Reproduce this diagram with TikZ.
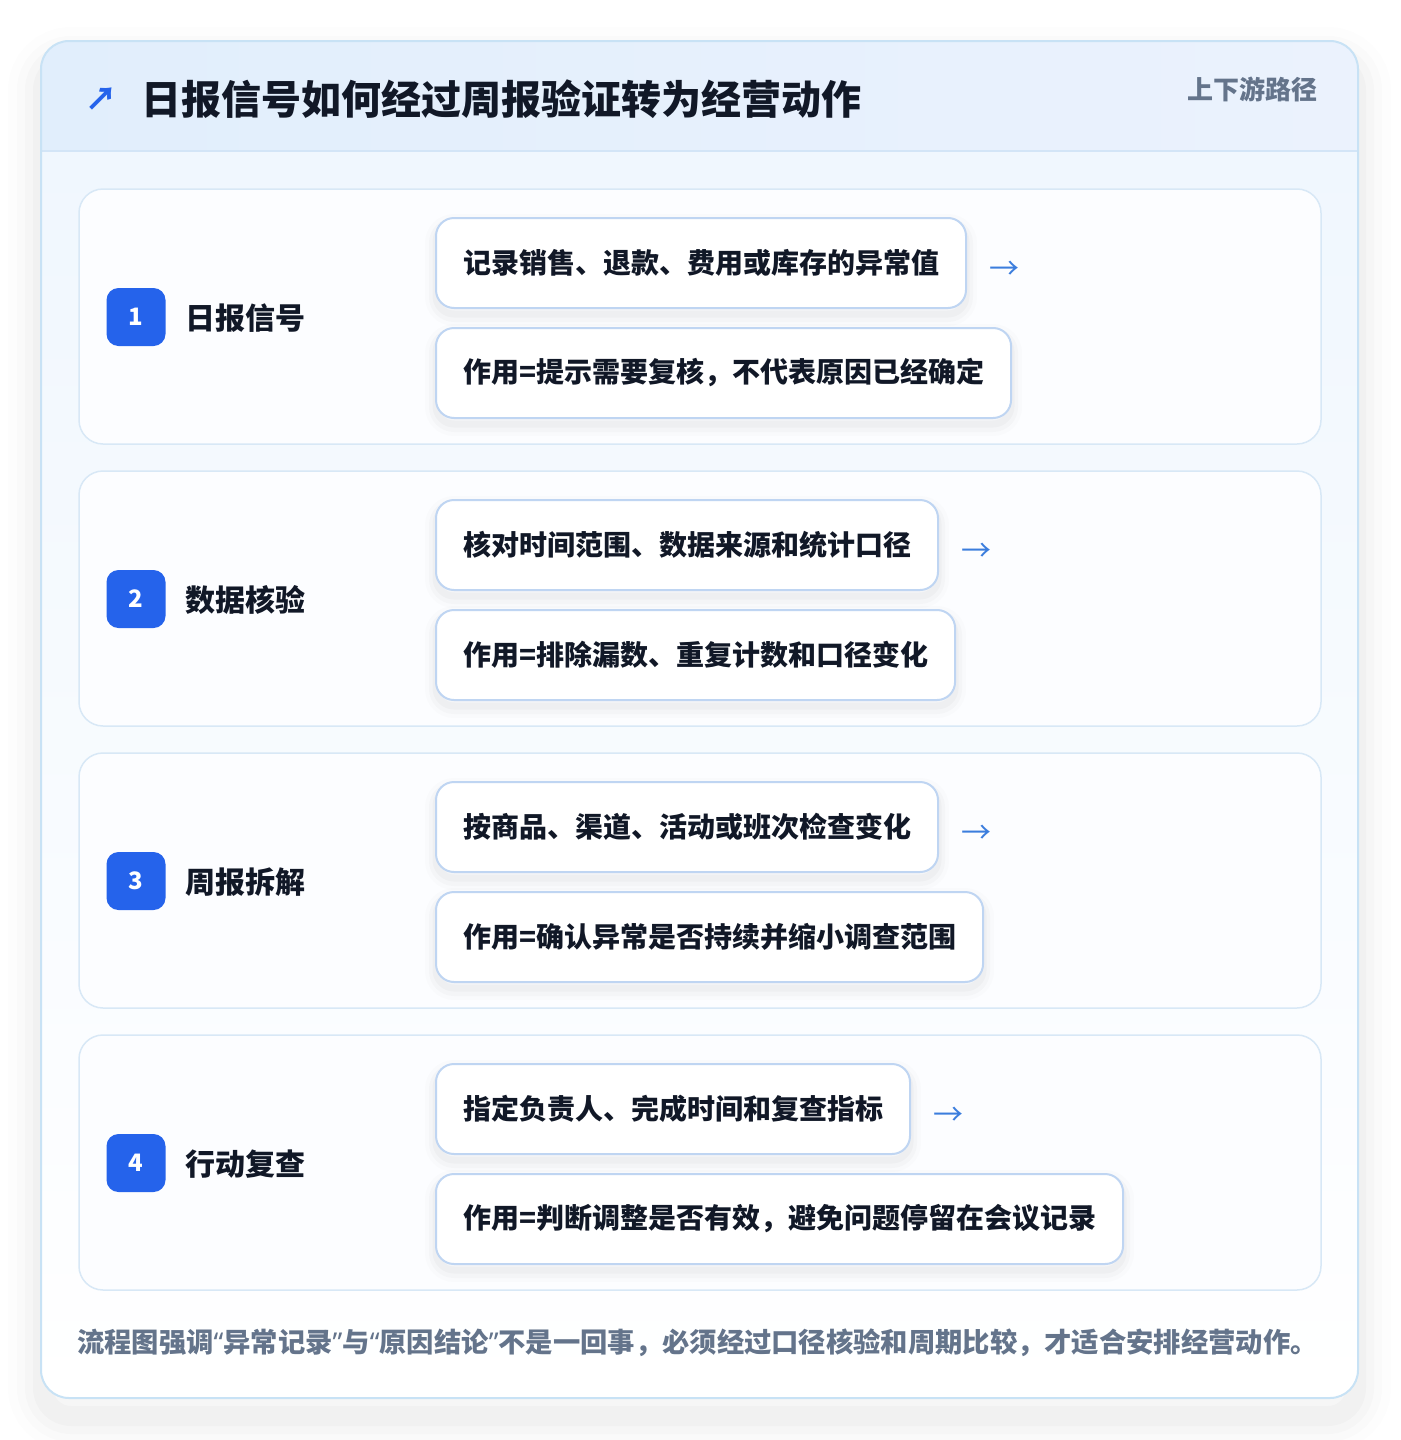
\documentclass[tikz,border=0pt]{standalone}
\usepackage{fontspec}
\setmainfont{Noto Sans CJK SC}
\newfontfamily\latinq{Noto Sans}
\usetikzlibrary{positioning}
\newcommand\fsz[1]{\fontsize{#1}{#1}\selectfont}
\newcommand\qopen{{\latinq “}}
\newcommand\qclose{{\latinq ”}}
\definecolor{ink}{HTML}{111827}
\definecolor{brand}{HTML}{2563EB}
\definecolor{arrowc}{HTML}{3B7DDD}
\definecolor{muted}{HTML}{64748B}
\definecolor{cardline}{HTML}{C8E2F5}
\definecolor{headA}{HTML}{E1EEFC}
\definecolor{headB}{HTML}{EBF2FD}
\definecolor{headline}{HTML}{D3E5F7}
\definecolor{bodyA}{HTML}{F0F7FE}
\definecolor{stepline}{HTML}{D8E8F6}
\definecolor{stepfill}{HTML}{FCFDFF}
\definecolor{boxline}{HTML}{BFD5F2}
\tikzset{
  softshadow/.style={
    preaction={draw=black, draw opacity=0.012, line width=22, transform canvas={yshift=-7pt}},
    preaction={draw=black, draw opacity=0.018, line width=14, transform canvas={yshift=-7pt}},
    preaction={draw=black, draw opacity=0.025, line width=7, transform canvas={yshift=-6pt}}},
  stepcard/.style={draw=stepline, line width=1.5, fill=stepfill, rounded corners=24},
  badge/.style={fill=brand, rounded corners=12, minimum width=59, minimum height=58,
    text=white, font=\fsz{24}\bfseries, inner sep=0},
  steplabel/.style={anchor=west, text=ink, font=\fsz{30}\bfseries, inner sep=0},
  infobox/.style={draw=boxline, line width=2, fill=white, rounded corners=18,
    minimum height=90, inner xsep=27, inner ysep=0, anchor=north west,
    font=\fsz{28}\bfseries, text=ink, softshadow},
  flowarrow/.style={anchor=west, text=arrowc, font=\fsz{30}, inner sep=0}
}
\begin{document}
\begin{tikzpicture}[x=1pt,y=-1pt]
\useasboundingbox (0,0) rectangle (1400,1440);
\fill[white] (0,0) rectangle (1400,1440);
% outer shadow
\foreach \w/\o in {70/0.009, 52/0.011, 36/0.014, 20/0.02}{
  \draw[black, draw opacity=\o, line width=\w, rounded corners=28] (43,62) rectangle (1356,1416);
}
% outer card
\path[fill=white, rounded corners=28] (41,41) rectangle (1358,1398);
\begin{scope}
  \clip[rounded corners=28] (41,41) rectangle (1358,1398);
  \shade[top color=bodyA, bottom color=white] (41,151) rectangle (1358,1398);
  \shade[left color=headA, right color=headB] (41,41) rectangle (1358,151);
  \draw[headline, line width=2] (41,151) -- (1358,151);
\end{scope}
\draw[cardline, line width=2, rounded corners=28] (41,41) rectangle (1358,1398);
% header
\node[text=brand, font=\fsz{32}\bfseries, inner sep=0] (icon) at (101,99) {↗};
\node[anchor=west, text=ink, font=\fsz{40}\bfseries, inner sep=0] (title) at (141,99) {日报信号如何经过周报验证转为经营动作};
\node[anchor=east, text=muted, font=\fsz{26}\bfseries, inner sep=0] (tag) at (1318,89) {上下游路径};
% steps
\foreach \i/\lab/\a/\b in {
  1/日报信号/记录销售、退款、费用或库存的异常值/作用=提示需要复核，不代表原因已经确定,
  2/数据核验/核对时间范围、数据来源和统计口径/作用=排除漏数、重复计数和口径变化,
  3/周报拆解/按商品、渠道、活动或班次检查变化/作用=确认异常是否持续并缩小调查范围,
  4/行动复查/指定负责人、完成时间和复查指标/作用=判断调整是否有效，避免问题停留在会议记录}{
  \pgfmathsetmacro\yy{189+282*(\i-1)}
  \draw[stepcard] (79,\yy) rectangle (1321,\yy+255);
  \node[badge] (badge\i) at (136,\yy+128) {\i};
  \node[steplabel] (label\i) at (185,\yy+129) {\lab};
  \node[infobox] (top\i) at (435,\yy+28) {\a};
  \node[infobox] (bottom\i) at (435,\yy+138) {\b};
  \node[flowarrow, right=22 of top\i.east, yshift=-7] (arrow\i) {→};
}
% footer
\node[anchor=west, text=muted, font=\fsz{27.3}\bfseries, inner sep=0] (note) at (77,1343) {流程图强调\qopen 异常记录\qclose 与\qopen 原因结论\qclose 不是一回事，必须经过口径核验和周期比较，才适合安排经营动作。};
\end{tikzpicture}
\end{document}
